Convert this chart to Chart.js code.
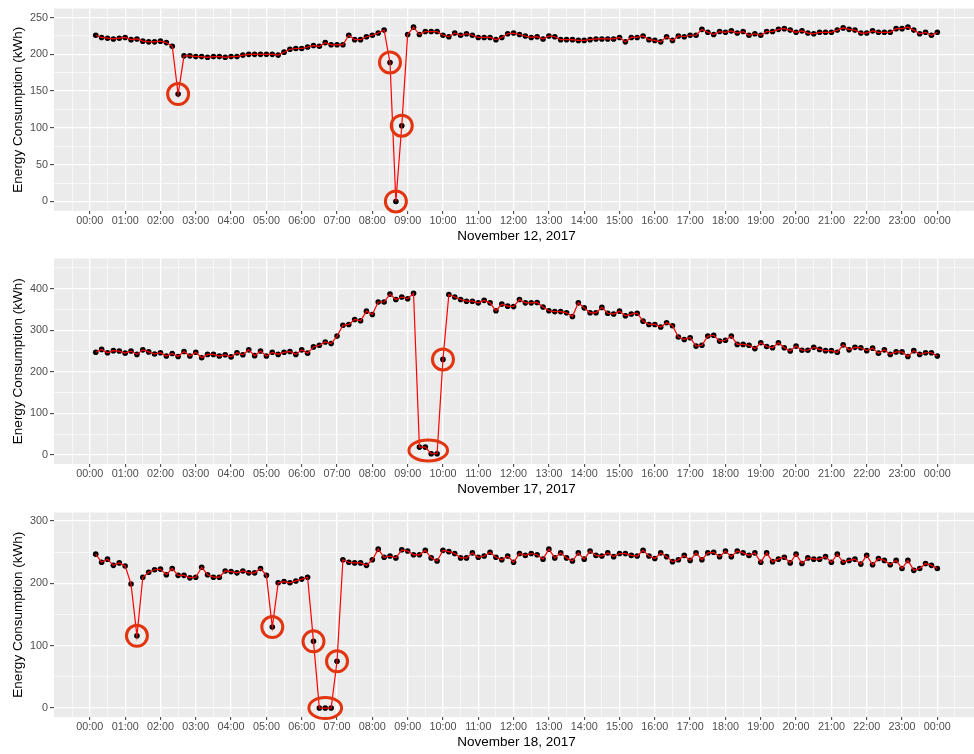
<!DOCTYPE html>
<html>
<head>
<meta charset="utf-8">
<script src="https://cdn.jsdelivr.net/npm/chart.js@4.4.1/dist/chart.umd.min.js"></script>
<style>
  html, body { margin: 0; padding: 0; background: #fff; overflow: hidden; }
  body { width: 974px; height: 754px; position: relative; }
  canvas { position: absolute; left: 0; }
</style>
</head>
<body>
<canvas id="nov12" width="983" height="250" style="top:0px"></canvas>
<canvas id="nov17" width="983" height="254" style="top:250px"></canvas>
<canvas id="nov18" width="983" height="250" style="top:504px"></canvas>
<script>
// readings every 10 minutes, 00:10 .. 24:00 (kWh)
const nov12 = [
  226, 223, 222, 221, 222, 223, 220, 221, 218, 217, 217, 218,
  216, 211, 146, 198, 198, 197, 197, 196, 197, 197, 196, 197,
  197, 199, 200, 200, 200, 200, 200, 199, 203, 207, 208, 208,
  210, 212, 211, 216, 213, 213, 213, 226, 220, 220, 224, 226,
  229, 233, 189, 0, 103, 227, 237, 227, 231, 231, 231, 226,
  224, 229, 226, 228, 226, 223, 223, 223, 220, 223, 228, 229,
  227, 225, 223, 224, 221, 225, 224, 220, 220, 220, 219, 219,
  220, 221, 221, 221, 221, 223, 217, 223, 223, 225, 220, 219,
  217, 224, 219, 225, 224, 226, 226, 234, 230, 227, 231, 230,
  232, 229, 231, 226, 228, 226, 231, 231, 234, 235, 233, 230,
  232, 229, 228, 230, 230, 230, 233, 236, 234, 233, 229, 229,
  232, 230, 230, 230, 235, 235, 237, 233, 228, 230, 226, 230,
];
const nov17 = [
  247, 254, 246, 251, 250, 245, 250, 242, 253, 248, 243, 246,
  238, 244, 237, 249, 238, 247, 234, 242, 242, 238, 241, 236,
  246, 241, 253, 239, 250, 238, 247, 242, 247, 249, 242, 253,
  245, 260, 264, 272, 268, 286, 312, 314, 326, 323, 346, 338,
  368, 368, 387, 374, 380, 376, 389, 19, 19, 3, 3, 230,
  386, 380, 374, 370, 370, 366, 372, 366, 347, 363, 358, 357,
  374, 366, 366, 367, 356, 347, 345, 345, 342, 333, 366, 354,
  342, 342, 355, 341, 339, 346, 335, 339, 341, 322, 314, 314,
  308, 318, 311, 284, 278, 282, 262, 264, 286, 288, 274, 276,
  286, 266, 266, 264, 256, 270, 261, 258, 270, 258, 250, 262,
  252, 252, 259, 254, 251, 251, 247, 265, 253, 259, 258, 251,
  257, 245, 253, 242, 248, 248, 237, 251, 242, 246, 246, 238,
];
const nov18 = [
  247, 234, 239, 229, 233, 228, 199, 116, 210, 218, 222, 223,
  214, 224, 213, 213, 209, 210, 226, 214, 210, 210, 220, 219,
  217, 220, 217, 217, 224, 213, 130, 201, 203, 201, 204, 207,
  210, 107, 0, 0, 0, 75, 238, 234, 233, 233, 229, 238,
  255, 242, 244, 241, 254, 252, 246, 246, 253, 241, 236, 253,
  251, 248, 241, 241, 249, 242, 244, 250, 242, 238, 244, 234,
  248, 245, 248, 246, 239, 255, 241, 249, 241, 236, 249, 239,
  252, 245, 244, 249, 243, 248, 248, 245, 244, 253, 244, 240,
  249, 243, 235, 238, 245, 237, 249, 238, 249, 250, 243, 252,
  243, 252, 249, 245, 249, 234, 249, 235, 239, 242, 233, 247,
  232, 241, 239, 239, 243, 234, 247, 234, 237, 239, 231, 245,
  230, 240, 237, 230, 237, 224, 237, 221, 224, 232, 229, 224,
];

// circled readings (times of day)
const marks12 = [['02:30'], ['08:30'], ['08:40'], ['08:50']];
const marks17 = [['09:20', '09:30', '09:40', '09:50'], ['10:00']];
const marks18 = [['01:20'], ['05:10'], ['06:20'], ['06:30', '06:40', '06:50'], ['07:00']];

const titles = ['November 12, 2017', 'November 17, 2017', 'November 18, 2017'];

const FONT = '"Liberation Sans", Arial, Helvetica, sans-serif';

const toHour = t => {
  const [h, m] = t.split(':').map(Number);
  return h + m / 60;
};
const pad2 = n => String(n).padStart(2, '0');

// grey panel like ggplot
const panelBg = {
  id: 'panelBg',
  beforeDraw(chart) {
    const { ctx, chartArea: a } = chart;
    ctx.save();
    ctx.fillStyle = '#ebebeb';
    ctx.fillRect(a.left, a.top, a.right - a.left, a.bottom - a.top);
    ctx.restore();
  },
};

// red rings round the odd readings
const rings = {
  id: 'rings',
  afterDatasetsDraw(chart, args, opts) {
    const { ctx } = chart;
    const xs = chart.scales.x, ys = chart.scales.y;
    const pts = chart.data.datasets[0].data;
    ctx.save();
    ctx.strokeStyle = '#e2340f';
    ctx.lineWidth = 3;
    (opts.groups || []).forEach(g => {
      const sel = g.map(t => pts.find(p => Math.abs(p.x - toHour(t)) < 0.01));
      const px = sel.map(p => xs.getPixelForValue(p.x));
      const py = sel.map(p => ys.getPixelForValue(p.y));
      const x0 = Math.min(...px), x1 = Math.max(...px);
      const y0 = Math.min(...py), y1 = Math.max(...py);
      ctx.beginPath();
      ctx.ellipse((x0 + x1) / 2, (y0 + y1) / 2, 10.5 + (x1 - x0) / 2, 10.5, 0, 0, Math.PI * 2);
      ctx.stroke();
    });
    ctx.restore();
  },
};

function makeChart(id, values, title, groups, yMin, yMax, yStep, pad) {
  const points = values.map((v, i) => ({ x: (i + 1) / 6, y: v }));
  const xTicks = [];
  for (let h = -0.5; h <= 24.5; h += 0.5) xTicks.push(h);
  const yTicks = [];
  for (let v = 0; v <= yMax; v += yStep / 2) yTicks.push(v);

  const isMajorX = v => Number.isInteger(v);
  const isMajorY = v => v % yStep === 0;

  return new Chart(document.getElementById(id), {
    type: 'line',
    data: {
      datasets: [
        {
          data: points,
          borderColor: '#ff0000',
          borderWidth: 1.2,
          pointRadius: 0,
          tension: 0,
          order: 1,
        },
        {
          data: points,
          showLine: false,
          pointRadius: 2.8,
          pointBackgroundColor: '#000',
          pointBorderWidth: 0,
          order: 2,
        },
      ],
    },
    options: {
      responsive: false,
      animation: false,
      devicePixelRatio: 1,
      layout: { padding: { top: pad.top, bottom: pad.bottom, left: 0, right: 0 } },
      plugins: {
        legend: { display: false },
        tooltip: { enabled: false },
        rings: { groups: groups.map(g => g) },
      },
      scales: {
        x: {
          type: 'linear',
          min: -1.015,
          max: 25.18,
          afterBuildTicks: scale => {
            scale.ticks = xTicks.map(v => ({ value: v }));
          },
          afterFit: scale => {
            scale.height = 36;
          },
          border: { display: false },
          grid: {
            color: '#ffffff',
            lineWidth: c => (isMajorX(c.tick.value) ? 1.3 : 0.6),
            tickColor: c => (isMajorX(c.tick.value) ? '#333333' : 'rgba(0,0,0,0)'),
            tickLength: 3,
            tickWidth: 1,
          },
          ticks: {
            autoSkip: false,
            maxRotation: 0,
            padding: 1,
            color: '#4d4d4d',
            font: { family: FONT, size: 10.8 },
            callback: v => (isMajorX(v) && v >= 0 && v <= 24 ? pad2(v % 24) + ':00' : ''),
          },
          title: {
            display: true,
            text: title,
            color: '#000',
            font: { family: FONT, size: 13.5 },
            padding: { top: 0, bottom: 2.9 },
          },
        },
        y: {
          min: yMin,
          max: yMax,
          afterBuildTicks: scale => {
            scale.ticks = yTicks.map(v => ({ value: v }));
          },
          afterFit: scale => {
            scale.width = 54;
          },
          border: { display: false },
          grid: {
            color: '#ffffff',
            lineWidth: c => (isMajorY(c.tick.value) ? 1.3 : 0.6),
            tickColor: c => (isMajorY(c.tick.value) ? '#333333' : 'rgba(0,0,0,0)'),
            tickLength: 4,
            tickWidth: 1,
          },
          ticks: {
            autoSkip: false,
            padding: 2,
            color: '#4d4d4d',
            font: { family: FONT, size: 10.8 },
            callback: v => (isMajorY(v) ? String(v) : ''),
          },
          title: {
            display: true,
            text: 'Energy Consumption (kWh)',
            color: '#000',
            font: { family: FONT, size: 13.5 },
            padding: { top: 10, bottom: 0 },
          },
        },
      },
    },
    plugins: [panelBg, rings],
  });
}

makeChart('nov12', nov12, titles[0], marks12, -12.97, 262.4, 50, { top: 5, bottom: 3 });
makeChart('nov17', nov17, titles[1], marks17, -21.6, 472.7, 100, { top: 8, bottom: 4 });
makeChart('nov18', nov18, titles[2], marks18, -14.4, 313.9, 100, { top: 8, bottom: 1 });
</script>
</body>
</html>
